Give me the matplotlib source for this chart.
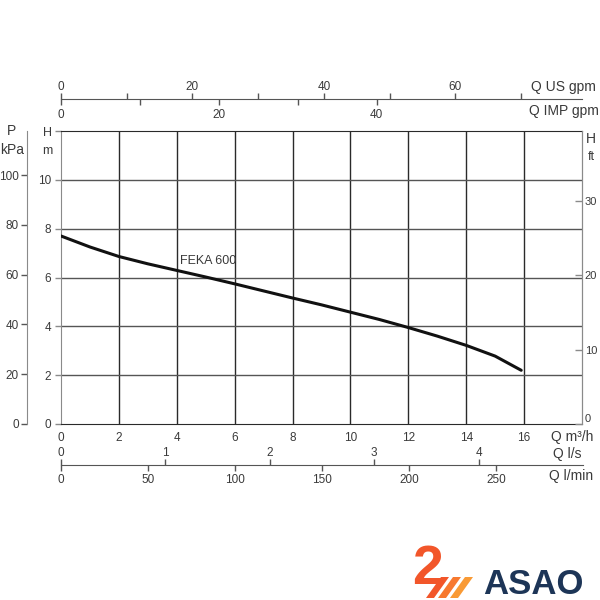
import matplotlib
matplotlib.use('Agg')
import matplotlib.pyplot as plt
from matplotlib.patches import Polygon

plt.rcParams['font.family'] = ['Liberation Sans', 'DejaVu Sans']

# pump curve FEKA 600
q_m3h = [0, 1, 2, 3, 4, 5, 6, 7, 8, 9, 10, 11, 12, 13, 14, 15, 15.9]
h_m = [7.7, 7.25, 6.86, 6.56, 6.29, 6.02, 5.74, 5.45, 5.16, 4.88, 4.58, 4.28, 3.95, 3.6, 3.22, 2.78, 2.2]
curve_name = 'FEKA 600'

# axis ticks
x_ticks = [0, 2, 4, 6, 8, 10, 12, 14, 16]
h_ticks = [0, 2, 4, 6, 8, 10]
p_ticks = [0, 20, 40, 60, 80, 100]
ft_ticks = [0, 10, 20, 30]
us_ticks = [0, 10, 20, 30, 40, 50, 60, 70]
us_labels = ['0', '', '20', '', '40', '', '60', '']
imp_ticks = [0, 10, 20, 30, 40]
imp_labels = ['0', '', '20', '', '40']
ls_ticks = [0, 1, 2, 3, 4]
lmin_ticks = [0, 50, 100, 150, 200, 250]

# unit conversions from m3/h and m
US_GPM = 4.402868
IMP_GPM = 3.666154
L_S = 1 / 3.6
L_MIN = 1000 / 60
KPA = 9.80665
FT = 1 / 0.3048

Q_MAX = 18
H_MAX = 12

W = H = 600
txt_col = '#3a3a3a'
grid_col = '#2a2a2a'
spine_grey = '#8a8a8a'
tick_col = '#555555'


def px(x0, y0, x1, y1):
    # pixel box (top-left origin) to figure fraction rect
    return [x0 / W, 1 - y1 / H, (x1 - x0) / W, (y1 - y0) / H]


def hide(a, keep=()):
    for k, s in a.spines.items():
        s.set_visible(k in keep)


fig = plt.figure(figsize=(6, 6), dpi=100)

# main chart
ax = fig.add_axes(px(61, 131, 582, 424))
ax.set_xlim(0, Q_MAX)
ax.set_ylim(0, H_MAX)
ax.set_xticks(x_ticks)
ax.set_yticks(h_ticks + [12])
ax.set_yticklabels([str(v) for v in h_ticks] + [''])
for v in x_ticks[1:]:
    ax.axvline(v, color=grid_col, lw=1.0, zorder=1)
for v in h_ticks[1:]:
    ax.axhline(v, color='#555555', lw=1.0, zorder=1)
ax.plot(q_m3h, h_m, color='#111111', lw=2.2, solid_capstyle='round',
        solid_joinstyle='round', zorder=3)
ax.text(4.1, 6.55, curve_name, fontsize=9, color=txt_col,
        family=['Liberation Sans Narrow', 'Liberation Sans'])
ax.tick_params(axis='x', length=0, pad=6, labelsize=8.5, labelcolor=txt_col)
ax.tick_params(axis='y', direction='out', length=4, width=1, color=spine_grey,
               pad=3, labelsize=8.5, labelcolor=txt_col)
ax.spines['left'].set_color(spine_grey)
ax.spines['right'].set_color(spine_grey)
ax.spines['top'].set_color(grid_col)
ax.spines['bottom'].set_color(grid_col)

# right axis in ft
axr = ax.twinx()
axr.set_ylim(0, H_MAX * FT)
axr.set_yticks(ft_ticks)
axr.tick_params(axis='y', direction='in', length=5, width=1, color=spine_grey,
                pad=2, labelsize=8, labelcolor=txt_col)
hide(axr, keep=('right',))
axr.spines['right'].set_color(spine_grey)
axr.get_yticklabels()[0].set_va('bottom')

# left axis in kPa
axp = fig.add_axes(px(27, 131, 27.01, 424))
axp.set_ylim(0, H_MAX * KPA)
axp.set_yticks(p_ticks)
axp.set_xticks([])
hide(axp, keep=('left',))
axp.spines['left'].set_color(spine_grey)
axp.tick_params(axis='y', direction='out', length=4, width=1, color=tick_col,
                pad=2, labelsize=8.5, labelcolor=txt_col)

# top flow axes: US gpm above, IMP gpm below
axu = fig.add_axes(px(61, 99, 582, 99.2))
axi = axu.twiny()
axu.set_xlim(0, Q_MAX * US_GPM)
axu.set_yticks([])
axu.set_xticks(us_ticks)
axu.set_xticklabels(us_labels)
axu.tick_params(axis='x', bottom=False, labelbottom=False, top=True, labeltop=True,
                direction='out', length=4, width=1, color=tick_col,
                pad=0, labelsize=8.5, labelcolor=txt_col)
hide(axu, keep=('top',))
axu.spines['top'].set_color(tick_col)
axi.set_xlim(0, Q_MAX * IMP_GPM)
axi.set_xticks(imp_ticks)
axi.set_xticklabels(imp_labels)
axi.tick_params(axis='x', top=False, labeltop=False, bottom=True, labelbottom=True,
                direction='out', length=4, width=1, color=tick_col,
                pad=3, labelsize=8.5, labelcolor=txt_col)
hide(axi)

# bottom flow axes: l/s above, l/min below
axs = fig.add_axes(px(61, 465, 583, 465.2))
axm = axs.twiny()
axs.set_xlim(0, Q_MAX * L_S)
axs.set_yticks([])
axs.set_xticks(ls_ticks)
axs.tick_params(axis='x', bottom=False, labelbottom=False, top=True, labeltop=True,
                direction='out', length=4, width=1, color=tick_col,
                pad=0, labelsize=8.5, labelcolor=txt_col)
hide(axs, keep=('top',))
axs.spines['top'].set_color(tick_col)
axm.set_xlim(0, Q_MAX * L_MIN)
axm.set_xticks(lmin_ticks)
axm.tick_params(axis='x', top=False, labeltop=False, bottom=True, labelbottom=True,
                direction='out', length=4, width=1, color=tick_col,
                pad=2, labelsize=8.5, labelcolor=txt_col)
hide(axm)


# unit labels
def flabel(x, y, s, ha='left', size=10):
    fig.text(x / W, 1 - y / H, s, ha=ha, va='center', fontsize=size, color=txt_col)


flabel(531, 87, 'Q US gpm')
flabel(529, 111, 'Q IMP gpm')
flabel(551, 437, 'Q m³/h')
flabel(553, 454, 'Q l/s')
flabel(549, 476, 'Q l/min')
flabel(12, 131, 'P', ha='center')
flabel(12, 150, 'kPa', ha='center')
flabel(47, 133, 'H', ha='center', size=9)
flabel(47, 151, 'm', ha='center', size=9)
flabel(591, 139, 'H', ha='center')
flabel(591, 157, 'ft', ha='center', size=9)

# logo
lg = fig.add_axes([0, 0, 1, 1], facecolor='none')
lg.set_xlim(0, W)
lg.set_ylim(H, 0)
lg.axis('off')
lg.text(428, 570, '2', ha='center', va='center', fontsize=40, fontweight='bold',
        color='#f2562a', family=['Liberation Sans', 'DejaVu Sans'])
for i, c in enumerate(['#f2562a', '#f7792f', '#f99a35']):
    x0 = 426 + i * 12
    lg.add_patch(Polygon([(x0, 598), (x0 + 15, 577), (x0 + 23, 577), (x0 + 8, 598)],
                         closed=True, color=c, lw=0))
lg.text(533, 584, 'ASAO', ha='center', va='center', fontsize=25, fontweight='bold',
        color='#1d3557', family=['Liberation Sans', 'DejaVu Sans'])

fig.savefig('out.png', dpi=100)
